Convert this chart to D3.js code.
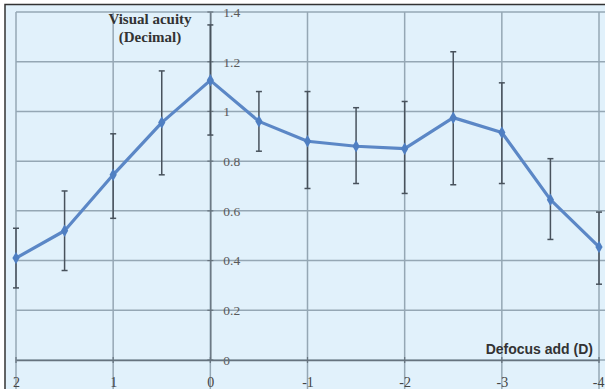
<!DOCTYPE html>
<html><head><meta charset="utf-8">
<script src="https://cdn.jsdelivr.net/npm/d3@7"></script>
<style>html,body{margin:0;padding:0;background:#fff;overflow:hidden}</style>
</head><body>
<script>
const defocus = [2, 1.5, 1, 0.5, 0, -0.5, -1, -1.5, -2, -2.5, -3, -3.5, -4];
const acuity  = [0.41, 0.52, 0.745, 0.955, 1.125, 0.96, 0.88, 0.86, 0.85, 0.975, 0.915, 0.645, 0.455];
const errLow  = [0.29, 0.36, 0.57, 0.745, 0.905, 0.84, 0.69, 0.71, 0.67, 0.705, 0.71, 0.485, 0.305];
const errHigh = [0.53, 0.68, 0.91, 1.163, 1.348, 1.08, 1.08, 1.015, 1.04, 1.24, 1.115, 0.81, 0.595];
const xTicks = [2, 1, 0, -1, -2, -3, -4];
const yTicks = [0, 0.2, 0.4, 0.6, 0.8, 1, 1.2, 1.4];
const yTitle = ["Visual acuity", "(Decimal)"];
const xTitle = "Defocus add (D)";

const W = 605, H = 389;
const svg = d3.select("body").append("svg").attr("width", W).attr("height", H);

// frame / background
svg.append("rect").attr("x", 5).attr("y", 4.5).attr("width", W).attr("height", H)
  .attr("fill", "#e1f1fb").attr("stroke", "#333").attr("stroke-width", 1.5);

const x = d3.scaleLinear().domain([2, -4]).range([16, 599]);
const y = d3.scaleLinear().domain([0, 1.4]).range([360, 12]);

// gridlines
svg.append("g").selectAll("line").data(yTicks).join("line")
  .attr("x1", 16).attr("x2", W).attr("y1", d => y(d)).attr("y2", d => y(d))
  .attr("stroke", "#95a7b4").attr("stroke-width", 1.5);
svg.append("g").selectAll("line").data(xTicks).join("line")
  .attr("y1", 12).attr("y2", H).attr("x1", d => x(d)).attr("x2", d => x(d))
  .attr("stroke", "#95a7b4").attr("stroke-width", 1.5);

// axes
const yAxis = d3.axisRight(y).tickValues(yTicks).tickSize(0).tickPadding(13)
  .tickFormat(d => String(d));
const gy = svg.append("g").attr("transform", `translate(${x(0)},0)`).call(yAxis)
  .attr("font-family", "Liberation Serif, serif").attr("font-size", 13.5);
gy.select(".domain").attr("stroke", "#66737e").attr("stroke-width", 1.4);
gy.selectAll("text").attr("fill", "#5a5a5a");
svg.append("g").selectAll("line").data(yTicks).join("line")
  .attr("x1", x(0) - 3).attr("x2", x(0) + 3).attr("y1", d => y(d)).attr("y2", d => y(d))
  .attr("stroke", "#66737e").attr("stroke-width", 1.2);

const xAxis = d3.axisBottom(x).tickValues(xTicks).tickSize(0).tickPadding(17)
  .tickFormat(d => String(d));
const gx = svg.append("g").attr("transform", `translate(0,${y(0)})`).call(xAxis)
  .attr("font-family", "Liberation Serif, serif").attr("font-size", 14);
gx.select(".domain").attr("stroke", "#66737e").attr("stroke-width", 1.4);
gx.selectAll("text").attr("fill", "#444")
  .filter(d => d === xTicks[xTicks.length - 1]).attr("text-anchor", "end").attr("dx", 5);
svg.append("g").selectAll("line").data(xTicks).join("line")
  .attr("x1", d => x(d)).attr("x2", d => x(d)).attr("y1", y(0) - 3).attr("y2", y(0) + 3)
  .attr("stroke", "#66737e").attr("stroke-width", 1.2);

// error bars
const eb = svg.append("g").attr("stroke", "#48525c").attr("stroke-width", 1.5);
defocus.forEach((d, i) => {
  eb.append("line").attr("x1", x(d)).attr("x2", x(d)).attr("y1", y(errLow[i])).attr("y2", y(errHigh[i]));
  eb.append("line").attr("x1", x(d) - 3).attr("x2", x(d) + 3).attr("y1", y(errLow[i])).attr("y2", y(errLow[i]));
  eb.append("line").attr("x1", x(d) - 3).attr("x2", x(d) + 3).attr("y1", y(errHigh[i])).attr("y2", y(errHigh[i]));
});

// line
const pts = defocus.map((d, i) => [d, acuity[i]]);
svg.append("path").datum(pts)
  .attr("d", d3.line().x(p => x(p[0])).y(p => y(p[1])))
  .attr("fill", "none").attr("stroke", "#5b87c6").attr("stroke-width", 3.2).attr("stroke-linejoin", "round");
svg.append("g").selectAll("path").data(pts).join("path")
  .attr("d", d3.symbol(d3.symbolDiamond, 45))
  .attr("transform", p => `translate(${x(p[0])},${y(p[1])})`)
  .attr("fill", "#4f7fc2");

// titles
const yt = svg.append("text").attr("font-family", "Liberation Serif, serif").attr("font-weight", "bold")
  .attr("font-size", 15).attr("fill", "#333");
yt.selectAll("tspan").data(yTitle).join("tspan")
  .attr("x", 150).attr("y", (d, i) => 24 + i * 18).attr("text-anchor", "middle").text(d => d);
svg.append("text").attr("x", 593).attr("y", 354).attr("text-anchor", "end")
  .attr("font-family", "Liberation Sans, Arial, sans-serif").attr("font-weight", "bold")
  .attr("font-size", 14).attr("fill", "#333").text(xTitle);
</script>
</body></html>
